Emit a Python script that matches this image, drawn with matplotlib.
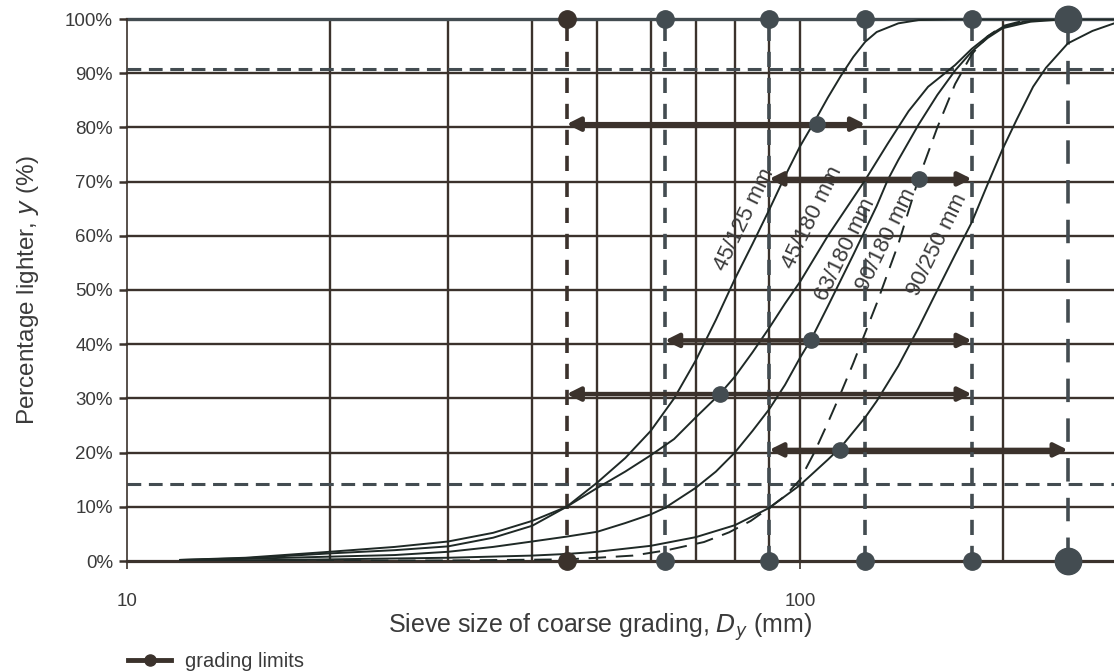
import matplotlib.pyplot as plt
from matplotlib.lines import Line2D
from matplotlib.ticker import FixedLocator, NullLocator, PercentFormatter

plt.rcParams['font.family'] = ['Liberation Sans', 'DejaVu Sans']

# grading curves: sieve size (mm) against percentage lighter
size_45_125 = [12, 15, 20, 25, 30, 35, 40, 45, 50, 55, 60, 65, 70, 75, 80, 85, 90, 95,
               100, 105, 110, 115, 120, 125, 130, 140, 150, 170, 200, 293]
pass_45_125 = [0.2, 0.6, 1.7, 2.6, 3.6, 5.2, 7.4, 10.0, 14.5, 19.0, 24.0, 30.0, 37.0, 44.5,
               52.0, 58.5, 64.8, 71.0, 76.5, 81.0, 85.5, 89.5, 93.0, 95.8, 97.6, 99.2, 99.8,
               100, 100, 100]

size_45_180 = [12, 15, 20, 25, 30, 35, 40, 45, 50, 55, 60, 65, 70, 76, 80, 85, 90, 95, 100,
               110, 120, 125, 135, 145, 155, 170, 180, 190, 200, 215, 240, 293]
pass_45_180 = [0.2, 0.5, 1.4, 2.0, 2.7, 4.3, 6.5, 10.0, 13.5, 16.5, 19.5, 22.5, 26.5, 30.8,
               34.0, 38.5, 43.0, 47.5, 51.5, 60.0, 67.0, 70.3, 77.0, 83.0, 87.5, 91.5, 94.5,
               96.8, 98.5, 99.5, 100, 100]

size_63_180 = [12, 20, 25, 30, 35, 40, 45, 50, 55, 60, 63, 70, 75, 80, 85, 90, 95, 100, 104,
               110, 120, 130, 135, 140, 150, 160, 170, 180, 190, 200, 220, 250, 293]
pass_63_180 = [0.1, 0.8, 1.1, 1.7, 2.6, 3.6, 4.5, 5.4, 7.0, 8.6, 9.8, 13.5, 16.5, 20.0, 24.0,
               28.0, 32.5, 37.5, 41.0, 47.0, 56.5, 65.5, 70.3, 74.0, 80.5, 86.0, 90.5, 94.0,
               96.5, 98.3, 99.5, 100, 100]

size_90_180 = [12, 30, 45, 50, 56.5, 63.5, 72, 78.5, 84.5, 90, 95, 100, 105, 110, 115, 120,
               130, 140, 150, 160, 170, 180, 190, 200, 215, 240, 293]
pass_90_180 = [0, 0.1, 0.3, 0.6, 1.0, 2.0, 3.5, 5.3, 7.4, 9.8, 12.0, 15.0, 20.0, 25.5, 31.0,
               36.5, 47.5, 58.5, 70.5, 80.0, 88.0, 93.5, 96.8, 98.7, 99.7, 100, 100]

size_90_250 = [12, 20, 30, 40, 45, 50, 60, 70, 80, 90, 100, 110, 115, 125, 130, 140, 150, 160,
               170, 180, 190, 200, 210, 222, 232, 250, 272, 293]
pass_90_250 = [0, 0.3, 0.6, 1.0, 1.3, 1.7, 2.8, 4.4, 6.6, 9.8, 14.0, 18.7, 21.0, 26.5, 29.5,
               36.0, 43.0, 50.0, 56.5, 62.5, 69.5, 76.0, 81.5, 87.5, 91.0, 95.5, 97.8, 99.2]

curve_names = ['45/125 mm', '45/180 mm', '63/180 mm', '90/180 mm', '90/250 mm']
# where each name sits along its curve (size mm, %)
name_size = [82.8, 104.2, 116.7, 134.6, 159.8]
name_pct = [62.9, 63.3, 57.4, 59.2, 58.3]

limit_sizes = [45, 63, 90, 125, 180, 250]
band_levels = [90.8, 14.2]

# double arrows between grading limits, with the point on the matching curve
arrow_level = [80.6, 70.5, 40.7, 30.8, 20.5]
arrow_from = [45, 90, 63, 45, 90]
arrow_to = [125, 180, 180, 180, 250]
arrow_mark = [106, 150, 104, 76, 114.6]

GRID = '#3b322c'
SLATE = '#434c51'
CURVE = '#1f2926'
TEXT = '#3a3a3a'

fig = plt.figure(figsize=(11.14, 6.71), dpi=100)
ax = fig.add_axes([127 / 1114, 110 / 671, 987 / 1114, 542 / 671])
ax.set_xscale('log')
ax.set_xlim(10, 10 ** (1 + 987 / 673))
ax.set_ylim(0, 100)

for s in ['top', 'right', 'bottom']:
    ax.spines[s].set_visible(False)
ax.spines['left'].set_color(GRID)
ax.spines['left'].set_linewidth(1.2)

# log grid
for v in [20, 30, 40, 50, 60, 70, 80, 90, 100, 200]:
    ax.axvline(v, color=GRID, lw=1.7, zorder=1)
for p in range(0, 100, 10):
    ax.axhline(p, color=GRID, lw=1.7 if p else 2.3, zorder=1, clip_on=False)
ax.axhline(100, color=SLATE, lw=2.4, zorder=1, clip_on=False)

for p in band_levels:
    ax.axhline(p, color=SLATE, lw=2.2, ls=(0, (4.5, 2.5)), zorder=2)

# grading limits
for s in limit_sizes:
    c = GRID if s == 45 else SLATE
    dash = (0, (6.5, 4.5)) if s == 250 else (0, (4.2, 3.0))
    ms = 19 if s == 250 else 12.5
    ax.plot([s, s], [0, 100], color=c, lw=2.6, ls=dash, zorder=3)
    ax.plot([s, s], [0, 100], 'o', color=c, ms=ms, zorder=6, clip_on=False)

curves = [(size_45_125, pass_45_125), (size_45_180, pass_45_180),
          (size_63_180, pass_63_180), (size_90_180, pass_90_180),
          (size_90_250, pass_90_250)]
for i, (x, y) in enumerate(curves):
    ls = (0, (9, 5)) if curve_names[i] == '90/180 mm' else '-'
    ax.plot(x, y, color=CURVE, lw=1.4, ls=ls, zorder=4)
    ax.text(name_size[i], name_pct[i], curve_names[i], rotation=64, fontsize=16,
            color=TEXT, ha='center', va='center', rotation_mode='anchor', zorder=5)

for lv, x0, x1, xm in zip(arrow_level, arrow_from, arrow_to, arrow_mark):
    ax.annotate('', xy=(x1, lv), xytext=(x0, lv),
                arrowprops=dict(arrowstyle='<|-|>', lw=3.2, color=GRID,
                                mutation_scale=20, shrinkA=0, shrinkB=0), zorder=5)
    ax.plot(xm, lv, 'o', color=SLATE, ms=11, zorder=6)

ax.yaxis.set_major_locator(FixedLocator(range(0, 101, 10)))
ax.yaxis.set_major_formatter(PercentFormatter(decimals=0))
ax.xaxis.set_major_locator(FixedLocator([10, 100]))
ax.xaxis.set_minor_locator(NullLocator())
ax.set_xticklabels(['10', '100'])
ax.tick_params(axis='y', length=6, width=1.8, color=GRID, labelsize=13.5,
               labelcolor=TEXT, pad=4)
ax.tick_params(axis='x', length=6, width=1.2, color=GRID, labelsize=13.5,
               labelcolor=TEXT, pad=17)

ax.set_ylabel('Percentage lighter, $\\mathit{y}$ (%)', fontsize=17.5, color=TEXT,
              labelpad=17)
ax.set_xlabel('Sieve size of coarse grading, $\\mathit{D_y}$ (mm)', fontsize=18,
              color=TEXT)
ax.xaxis.set_label_coords(0.479, -0.093)

handle = Line2D([], [], color=GRID, lw=3.5, marker='o', ms=8)
fig.legend([handle], ['grading limits'], loc='lower left', frameon=False,
           bbox_to_anchor=(128 / 1114, 0.0), borderpad=0, borderaxespad=0,
           fontsize=14.5, handlelength=2.15, handletextpad=0.7, labelcolor=TEXT)

fig.savefig('out.png', dpi=100)
